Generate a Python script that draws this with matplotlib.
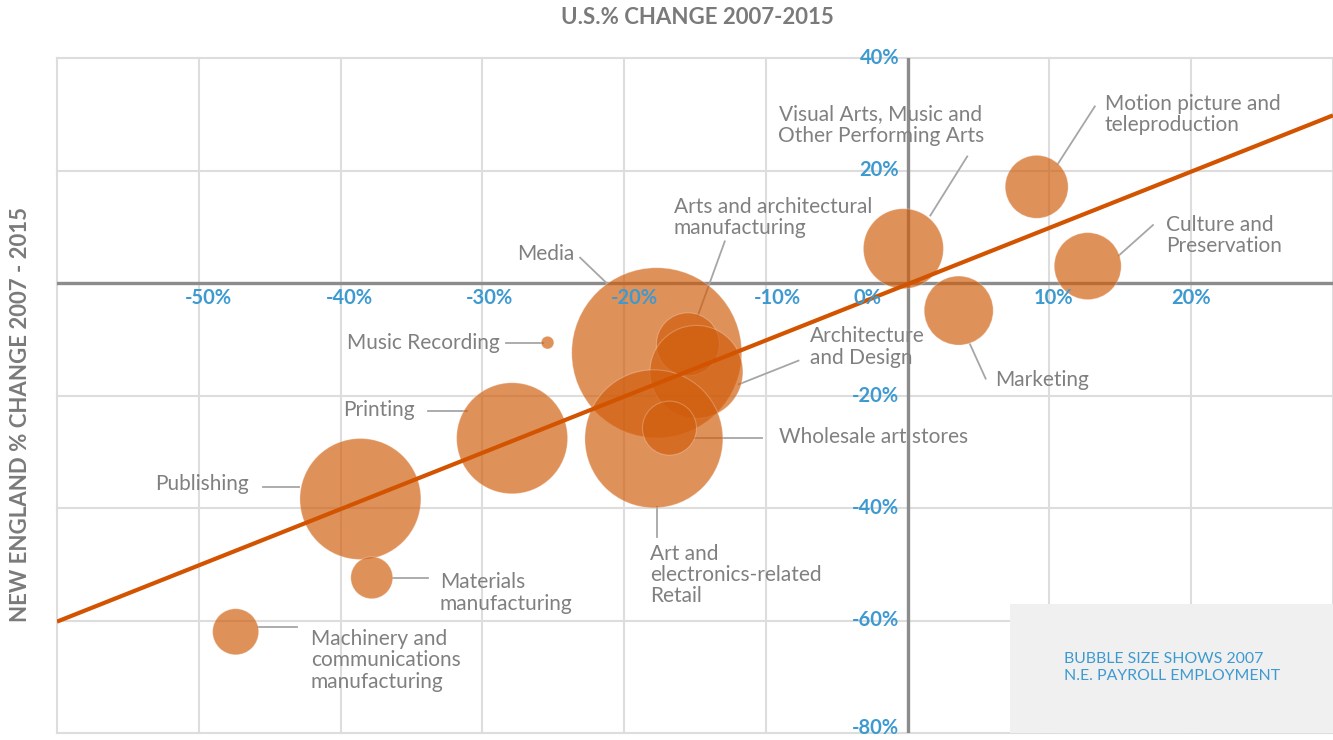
import matplotlib
matplotlib.use("Agg")
import matplotlib.pyplot as plt
from matplotlib.colors import to_rgba
from matplotlib.patches import Rectangle

# industries: US % change (x), New England % change (y), 2007 employment (relative bubble area)
names = ["Visual Arts", "Motion picture", "Culture", "Marketing", "Media",
         "Arts arch manuf", "Architecture", "Retail", "Wholesale", "Music Recording",
         "Printing", "Publishing", "Materials", "Machinery"]
us_chg = [-0.3, 9.1, 12.7, 3.6, -17.7, -15.5, -14.9, -17.9, -16.8, -25.4, -27.9, -38.6, -37.8, -47.4]
ne_chg = [6.1, 17.1, 3.0, -4.9, -12.4, -10.9, -15.8, -27.7, -25.8, -10.6, -27.6, -38.4, -52.4, -62.0]
emp_2007 = [1600, 990, 1120, 1190, 7225, 990, 2160, 4760, 730, 40, 3080, 3660, 440, 530]

trend_x = [-60, 30]
trend_y = [-60.2, 29.8]

x_ticks = [-50, -40, -30, -20, -10, 0, 10, 20]
y_ticks = [40, 20, -20, -40, -60, -80]

# label text, text anchor (x, y), ha, leader start, leader end
labels = [
    ("Media", (-23.5, 5.2), "right", (-23.1, 4.5), (-21.2, -0.1)),
    ("Arts and architectural\nmanufacturing", (-16.5, 11.6), "left", (-12.9, 7.4), (-14.8, -5.8)),
    ("Visual Arts, Music and\nOther Performing Arts", (-1.9, 28.1), "center", (4.2, 22.5), (1.6, 12.0)),
    ("Motion picture and\nteleproduction", (13.9, 29.9), "left", (13.2, 31.4), (10.6, 21.2)),
    ("Culture and\nPreservation", (18.2, 8.4), "left", (17.3, 10.3), (14.9, 4.9)),
    ("Marketing", (6.2, -17.3), "left", (4.4, -10.9), (5.5, -17.0)),
    ("Architecture\nand Design", (-6.9, -11.4), "left", (-7.7, -13.8), (-11.9, -18.0)),
    ("Wholesale art stores", (-9.1, -27.3), "left", (-15.1, -27.5), (-10.3, -27.5)),
    ("Music Recording", (-28.8, -10.6), "right", (-28.3, -10.6), (-25.7, -10.6)),
    ("Printing", (-34.8, -22.5), "right", (-33.8, -22.8), (-31.1, -22.8)),
    ("Publishing", (-46.5, -35.8), "right", (-45.5, -36.2), (-42.9, -36.2)),
    ("Materials\nmanufacturing", (-33.0, -55.1), "left", (-36.3, -52.5), (-33.8, -52.5)),
    ("Machinery and\ncommunications\nmanufacturing", (-42.1, -67.1), "left", (-45.8, -61.1), (-43.1, -61.1)),
    ("Art and\nelectronics-related\nRetail", (-18.2, -51.9), "left", (-17.7, -39.9), (-17.7, -45.1)),
]

grey_txt = "#808080"
blue = "#3d9ad1"
orange = "#d15d0c"

fig = plt.figure(figsize=(13.33, 7.4), dpi=100)
ax = fig.add_axes([57 / 1333, 7 / 740, 1276 / 1333, 675 / 740])
ax.set_xlim(-60, 30)
ax.set_ylim(-80, 40)
for s in ax.spines.values():
    s.set_visible(False)
ax.set_xticks([])
ax.set_yticks([])

# grid
for v in range(-60, 31, 10):
    ax.axvline(v, color="#dddddd", lw=1.5, zorder=1, clip_on=False)
for v in range(-80, 41, 20):
    ax.axhline(v, color="#dddddd", lw=1.5, zorder=1, clip_on=False)
ax.axhline(0, color="#8c8c8c", lw=2.4, zorder=2)
ax.axvline(0, color="#8c8c8c", lw=2.4, zorder=2)

# key box
ax.add_patch(Rectangle((7.2, -80), 22.8, 23.0, facecolor="#f0f0f0", edgecolor="none", zorder=1.5))
ax.text(11.0, -68.4, "BUBBLE SIZE SHOWS 2007\nN.E. PAYROLL EMPLOYMENT", color=blue,
        fontsize=11.4, family="Lato", ha="left", va="center", linespacing=1.25, zorder=3)

# bubbles
sizes = [e * (2 * 0.72) ** 2 for e in emp_2007]
ax.scatter(us_chg, ne_chg, s=sizes, facecolors=to_rgba(orange, 0.68),
           edgecolors=(1, 1, 1, 0.25), linewidths=0.8, zorder=4)

ax.plot(trend_x, trend_y, color="#d35400", lw=3, zorder=5, solid_capstyle="butt")

# labels with leaders
for txt, pos, ha, p0, p1 in labels:
    ax.plot([p0[0], p1[0]], [p0[1], p1[1]], color="#a6a6a6", lw=1.3, zorder=3)
    ax.text(pos[0], pos[1], txt, ha=ha, va="center", fontsize=15, color=grey_txt,
            family="Lato", linespacing=1.08, zorder=6)

# tick labels
x_off = {-50: 0.7, -40: 0.6, -30: 0.5, -20: 0.7, -10: 0.8, 0: -2.8, 10: 0.3, 20: 0.0}
for v in x_ticks:
    ax.text(v + x_off[v], -2.6, f"{v}%", ha="center", va="center", fontsize=14.5,
            color=blue, family="Lato", fontweight="bold", zorder=6)
for v in y_ticks:
    ax.text(-0.6, max(v, -79.2), f"{v}%", ha="right", va="center", fontsize=14.5,
            color=blue, family="Lato", fontweight="bold", zorder=6, clip_on=False)

fig.text(697 / 1333, 1 - 18 / 740, "U.S.% CHANGE 2007-2015", ha="center", va="center",
         fontsize=16, fontweight="bold", color="#7a7a7a", family="Lato")
fig.text(21 / 1333, 1 - 415 / 740, "NEW ENGLAND % CHANGE 2007 - 2015", ha="center", va="center",
         rotation=90, fontsize=16, fontweight="bold", color="#7a7a7a", family="Lato")

fig.savefig("out.png", dpi=100)
